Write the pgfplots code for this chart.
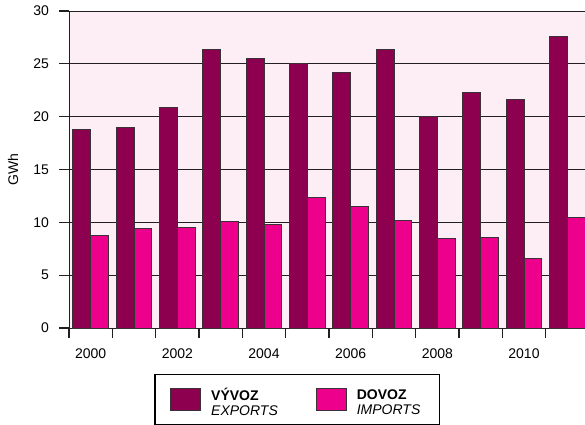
\documentclass[border=0pt]{standalone}
\usepackage{pgfplots}
\pgfplotsset{compat=1.18}
\usepackage{fontspec}
\setmainfont{Liberation Sans}
\definecolor{expc}{HTML}{8C004F}
\definecolor{impc}{HTML}{EC008C}
\definecolor{bgc}{HTML}{FDEDF4}
\definecolor{gridc}{HTML}{231F20}
\definecolor{edgec}{HTML}{3A3035}
\begin{document}
\begin{tikzpicture}
\begin{axis}[
  at={(34.5pt,48pt)}, anchor=south west,
  scale only axis, width=260pt, height=158.5pt,
  xmin=0, xmax=12, ymin=0, ymax=30, clip=false,
  axis line style={gridc, line width=0.5pt},
  axis background/.style={fill=bgc},
  font=\fontsize{7}{8}\selectfont,
  /pgf/number format/assume math mode=true,
  tick align=outside, tick pos=left,
  major tick length=5pt,
  tick style={gridc, line width=0.6pt},
  ytick={0,5,...,30},
  ymajorgrids, major grid style={gridc, line width=0.5pt},
  xtick={0,1,2,3,4,5,6,7,8,9,10,11},
  xticklabels={2000,{},2002,{},2004,{},2006,{},2008,{},2010,{}},
  xticklabel style={anchor=north, xshift=10.83pt, yshift=-2pt},
  yticklabel style={xshift=-1.5pt},
  ylabel={GWh},
  ylabel style={at={(axis description cs:-0.1077,0.5)}, anchor=center},
  legend style={at={(axis description cs:0.439,-0.145)}, anchor=north,
    legend columns=2, draw=black, line width=0.7pt, fill=white,
    font=\fontsize{7}{7.5}\selectfont, inner xsep=7.5pt, inner ysep=4.8pt,
    /tikz/every even column/.append style={column sep=17pt},
    /tikz/every odd column/.append style={column sep=3pt}},
]
\addplot[ybar, bar width=8.9pt, bar shift=-4.45pt, fill=expc, draw=edgec, line width=0.5pt,
  legend image code/.code={\draw[fill=expc, draw=edgec, line width=0.5pt] (0pt,-5.3pt) rectangle (15pt,5.3pt);}]
  coordinates {(0.5,18.8) (1.5,18.95) (2.5,20.9) (3.5,26.35) (4.5,25.5) (5.5,25.0) (6.5,24.15) (7.5,26.4) (8.5,20.0) (9.5,22.3) (10.5,21.6) (11.5,27.55)};
\addlegendentry{\begin{tabular}{@{}l@{}}\textbf{VÝVOZ}\\\textit{EXPORTS}\end{tabular}}
\addplot[ybar, bar width=8.9pt, bar shift=4.45pt, fill=impc, draw=edgec, line width=0.5pt,
  legend image code/.code={\draw[fill=impc, draw=edgec, line width=0.5pt] (0pt,-5.3pt) rectangle (15pt,5.3pt);}]
  coordinates {(0.5,8.73) (1.5,9.4) (2.5,9.52) (3.5,10.1) (4.5,9.8) (5.5,12.33) (6.5,11.5) (7.5,10.2) (8.5,8.5) (9.5,8.6) (10.5,6.6) (11.5,10.45)};
\addlegendentry{\begin{tabular}{@{}l@{}}\textbf{DOVOZ}\\\textit{IMPORTS}\end{tabular}}
\end{axis}
\pgfresetboundingbox
\useasboundingbox (0,0) rectangle (292.5pt,212pt);
\end{tikzpicture}
\end{document}
